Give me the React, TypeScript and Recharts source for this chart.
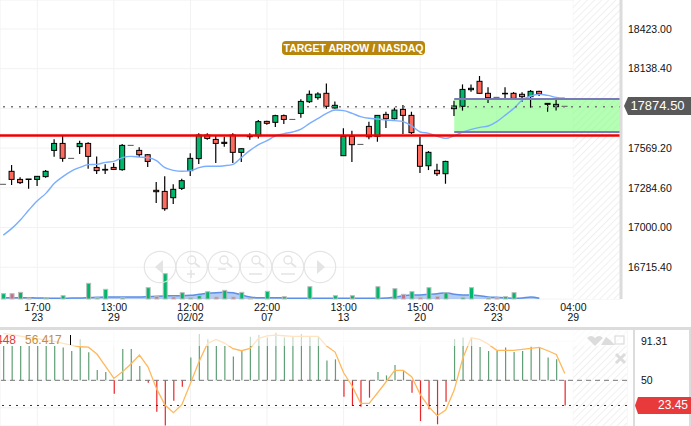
import {
  Area,
  Bar,
  CartesianGrid,
  Cell,
  ComposedChart,
  Line,
  ReferenceArea,
  ReferenceLine,
  XAxis,
  YAxis,
} from "recharts";

const font = "'Liberation Sans', Arial, sans-serif";

const opens = [17310,17403,17345,17348,17345,17365,17553,17603,17496,17580,17603,17431,17417,17431,17415,17589,17553,17522,17267,17259,17214,17281,17408,17494,17663,17632,17611,17663,17539,17658,17658,17761,17754,17802,17775,17818,17902,17931,17962,17857,17515,17654,17596,17725,17654,17811,17780,17847,17804,17589,17443,17410,17386,17852,17869,17988,18048,17962,17933,17962,17962,17955,17938,17976,17890,17866,17869];
const highs = [17310,17448,17360,17348,17369,17412,17632,17663,17496,17623,17611,17510,17453,17462,17599,17589,17575,17527,17326,17367,17310,17350,17532,17675,17675,17658,17651,17675,17568,17675,17771,17766,17809,17811,17775,17919,17983,17969,18033,17904,17711,17694,17596,17759,17806,17830,17859,17878,17830,17651,17548,17458,17479,17909,18026,18026,18086,18005,17933,18005,17971,17969,17986,17981,17890,17926,17869];
const lows = [17310,17305,17312,17278,17298,17357,17508,17472,17496,17527,17422,17384,17384,17412,17408,17589,17505,17434,17176,17121,17169,17269,17369,17455,17630,17462,17580,17462,17470,17630,17639,17737,17720,17742,17775,17787,17892,17916,17852,17854,17515,17470,17596,17632,17615,17713,17775,17670,17670,17391,17412,17369,17314,17799,17838,17974,17959,17892,17933,17916,17916,17902,17859,17943,17830,17838,17869];
const closes = [17310,17345,17322,17345,17367,17403,17603,17496,17496,17603,17510,17408,17412,17417,17589,17589,17522,17474,17257,17135,17274,17336,17496,17663,17639,17603,17603,17539,17565,17651,17759,17747,17802,17775,17775,17904,17955,17957,17869,17876,17654,17594,17596,17651,17804,17780,17842,17804,17680,17439,17539,17386,17474,17871,17990,17998,17962,17931,17933,17959,17926,17938,17976,17959,17883,17883,17869];
const emaValues = [16946,16994,17054,17126,17193,17245,17317,17365,17405,17431,17451,17453,17467,17474,17501,17510,17505,17501,17479,17429,17410,17403,17408,17429,17439,17439,17443,17453,17503,17553,17594,17623,17658,17673,17685,17706,17747,17783,17818,17842,17838,17818,17795,17783,17778,17771,17766,17759,17728,17685,17675,17654,17639,17658,17685,17704,17718,17728,17759,17806,17854,17914,17943,17955,17947,17933,17928];
const volumes = [16,16,20,3,0,4,0,10,0,0,47,4,29,0,4,0,0,34,7,76,6,19,4,10,22,6,26,6,20,2,0,23,0,7,0,0,37,0,0,10,0,10,0,0,37,0,31,14,22,5,34,7,19,0,5,34,0,4,4,7,19,0,0,0,0,0,0];
const redVolumes = [1, 18, 20, 25, 27, 47, 49, 51, 58];
const avgVolumes = [4,4,4,4,3,3,2,2,3,3,4,5,6,6,6,6,6,7,8,9,10,10,11,14,17,19,20,19,12,6,4,4,4,3,2,2,2,2,2,2,2,2,2,2,2,3,5,10,12,12,14,16,19,14,12,12,10,6,5,4,2,3,6,2];
const histValues = [86.1,86.1,86.1,86.1,86.1,86.1,86.1,84.7,80.9,93.2,79.5,60.8,58.7,35.9,83,83,65,47.5,16.9,2.2,28.5,43.3,74.2,98.8,93.2,86.1,86.1,75.2,81.9,96,97.7,95.3,100.2,95.3,96,98.8,96,96,71,72.1,32.7,22.9,22.2,31.7,58.7,55.2,66.1,59.8,36.9,7.1,19.4,3.6,27.5,93.5,95.3,95.3,85.1,80.9,80.9,84.7,79.8,80.9,85.4,84.7,74.2,72.1,23.45];
const oscValues = [99.5,98.1,96.7,95.3,93.9,92.4,91,88.9,87.2,85.4,85,77.7,65,52,59.1,67.2,76.6,64.3,41.5,23.9,15.9,24.6,46.8,69.6,88.9,93.2,89.3,83.3,81.2,83.7,94.2,97,97.7,97,96.3,96.3,96.3,96.3,86.1,79.8,58,44,25.7,25.7,36.9,48.5,60.5,60.5,53.8,35.2,22.2,12.7,18.7,39.7,73.1,94.9,93.2,88.2,81.6,81.6,81.6,82.6,83.7,84.7,81.2,77.3,57.3];

const tickIndexes = [4, 13, 22, 31, 40, 49, 58, 67];
const tickTimes = ["17:00", "13:00", "12:00", "22:00", "13:00", "15:00", "23:00", "04:00"];
const tickDates = ["23", "29", "02/02", "07", "13", "20", "23", "29"];
const priceTicks = [18423, 18138.4, 17853.8, 17569.2, 17284.6, 17000, 16715.4];
const oscTicks = [91.31, 50, 21];

const lastPrice = 17865;
const targetPrice = 17660;
const zoneTop = 17922;
const zoneBottom = 17684;
const lastOsc = 23.45;

const chartData = opens.map((open, i) => ({
  i,
  open,
  high: highs[i],
  low: lows[i],
  close: closes[i],
  ema: emaValues[i],
  volume: volumes[i],
  avgVolume: avgVolumes[i] ?? null,
  hist: [50, histValues[i]],
  histValue: histValues[i],
  osc: oscValues[i],
}));

function Candle(props: any) {
  const { x, y, width, height, payload } = props;
  const cx = x + width / 2;
  const { open, high, low, close } = payload;
  const span = high - low;
  if (span === 0) {
    return <line x1={cx - 3} x2={cx + 3} y1={y} y2={y} stroke="#555" strokeWidth={1} />;
  }
  const toY = (v: number) => y + ((high - v) / span) * height;
  const top = toY(Math.max(open, close));
  const bottom = toY(Math.min(open, close));
  const fill = close >= open ? "#00b86b" : "#ff6a5e";
  return (
    <g>
      <line x1={cx} x2={cx} y1={y} y2={y + height} stroke="#000" strokeWidth={1.2} />
      <rect x={cx - 2.5} y={top} width={5} height={Math.max(bottom - top, 0.5)} fill={fill} stroke="#000" strokeWidth={1} />
    </g>
  );
}

function VolumeBar(props: any) {
  const { x, y, width, height, payload } = props;
  if (!payload.volume) return null;
  const red = redVolumes.includes(payload.i);
  return (
    <rect
      x={x + 0.5}
      y={y}
      width={width - 1}
      height={height}
      fill={red ? "#c4708c" : "#00b86b"}
      stroke="#bdbdbd"
      strokeWidth={1}
    />
  );
}

function TimeTick(props: any) {
  const { x, y, payload } = props;
  const pos = tickIndexes.indexOf(payload.value);
  return (
    <text x={x} y={y} textAnchor="middle" fill="#111" fontSize={10.5} fontFamily={font}>
      <tspan x={x} dy={6}>{tickTimes[pos]}</tspan>
      <tspan x={x} dy={10}>{tickDates[pos]}</tspan>
    </text>
  );
}

function NavButtons() {
  const c = "#e4e4e4";
  const centers = [160, 191.7, 224, 256, 288, 320];
  return (
    <svg width={350} height={40} style={{ position: "absolute", left: 0, top: 247 }}>
      {centers.map((cx) => (
        <circle key={cx} cx={cx} cy={20} r={15.7} fill="none" stroke={c} strokeWidth={1.2} />
      ))}
      <path d="M163 13 L155 20 L163 27 Z" fill={c} />
      <path d="M317 13 L325 20 L317 27 Z" fill={c} />
      {centers.slice(1, 5).map((cx) => (
        <g key={cx} fill="none" stroke={c} strokeWidth={1.4}>
          <circle cx={cx} cy={13} r={4} />
          <path d={`M${cx + 3} 16 L${cx + 8} 20`} strokeWidth={2} />
        </g>
      ))}
      <path d="M187 27 h8 M191 23 v8 M218 22 h8 M249 27 h13 M281 27 h14" stroke={c} strokeWidth={1.6} fill="none" />
    </svg>
  );
}

function PaneIcons() {
  const c = "#dcdcdc";
  return (
    <svg width={50} height={40} style={{ position: "absolute", left: 584, top: 332 }}>
      <path d="M3 6 Q7 2 11 6 Q15 2 19 6 L11 14 Z" fill={c} />
      <path d="M17 13 L22 5 L26 8 L31 13 Z" fill={c} />
      <rect x={31} y={4} width={9} height={8} fill="none" stroke={c} strokeWidth={1.2} />
      <path d="M32 22 L41 31 M41 22 L32 31" stroke={c} strokeWidth={3} />
    </svg>
  );
}

export default function App() {
  return (
    <div style={{ position: "absolute", left: 0, top: 0, width: 691, height: 426, overflow: "hidden", background: "#fff", fontFamily: font }}>
      <div style={{ position: "absolute", left: 0, top: 0 }}>
        <ComposedChart width={691} height={327} data={chartData} margin={{ top: 0, right: 0, bottom: 0, left: 0 }}>
          <defs>
            <pattern id="hatch" width={5} height={5} patternUnits="userSpaceOnUse" patternTransform="rotate(45)">
              <rect width={5} height={5} fill="#fff" />
              <line x1={0} x2={0} y1={0} y2={5} stroke="#f0f0f0" strokeWidth={2} />
            </pattern>
          </defs>
          <XAxis
            dataKey="i"
            type="number"
            domain={[-0.39, 72.6]}
            ticks={tickIndexes}
            interval={0}
            height={28}
            axisLine={false}
            tickLine={false}
            tickMargin={0}
            tick={<TimeTick />}
          />
          <XAxis xAxisId="vol" dataKey="i" type="number" domain={[-0.39, 72.6]} hide />
          <YAxis
            yAxisId="price"
            orientation="right"
            domain={[16488, 18630.8]}
            ticks={priceTicks}
            interval={0}
            width={70}
            tickFormatter={(v: number) => (v === 17853.8 ? "" : v.toFixed(2))}
            axisLine={{ stroke: "#dcdcdc", strokeWidth: 3 }}
            tickLine={false}
            tickMargin={1}
            tick={{ fill: "#111", fontSize: 10.5, fontFamily: font }}
          />
          <YAxis yAxisId="volume" domain={[0, 897]} hide />
          <CartesianGrid yAxisId="price" stroke="#f2f2f2" />
          <ReferenceArea yAxisId="price" x1={67} x2={72.6} fill="url(#hatch)" fillOpacity={1} stroke="none" />
          <Area
            xAxisId="vol"
            yAxisId="volume"
            dataKey="avgVolume"
            type="monotone"
            stroke="#5b8fe8"
            strokeWidth={1.5}
            fill="#5b8fe8"
            fillOpacity={0.45}
            connectNulls={false}
            dot={false}
            activeDot={false}
            isAnimationActive={false}
          />
          <Bar xAxisId="vol" yAxisId="volume" dataKey="volume" barSize={5} shape={<VolumeBar />} isAnimationActive={false} />
          <Bar
            yAxisId="price"
            dataKey={(d: any) => [d.low, d.high]}
            barSize={6}
            shape={<Candle />}
            isAnimationActive={false}
          />
          <Line yAxisId="price" dataKey="ema" type="monotone" stroke="#7aaeff" strokeWidth={1.4} dot={false} activeDot={false} isAnimationActive={false} />
          <ReferenceArea
            yAxisId="price"
            x1={53}
            x2={72.6}
            y1={zoneBottom}
            y2={zoneTop}
            fill="#7dff7d"
            fillOpacity={0.58}
            stroke="none"
          />
          <ReferenceLine yAxisId="price" stroke="#7a7ab8" strokeWidth={2} segment={[{ x: 53, y: zoneTop }, { x: 72.6, y: zoneTop }]} />
          <ReferenceLine yAxisId="price" stroke="#7a7ab8" strokeWidth={2} segment={[{ x: 53, y: zoneBottom }, { x: 72.6, y: zoneBottom }]} />
          <ReferenceLine yAxisId="price" y={lastPrice} stroke="#777" strokeDasharray="2 6" strokeWidth={1.5} />
          <ReferenceLine yAxisId="price" y={targetPrice} stroke="#f00000" strokeWidth={2.4} />
        </ComposedChart>
      </div>

      <div style={{ position: "absolute", left: 0, top: 328 }}>
        <ComposedChart width={691} height={98} data={chartData} margin={{ top: 0, right: 0, bottom: 0, left: 0 }}>
          <defs>
            <pattern id="hatchOsc" width={5} height={5} patternUnits="userSpaceOnUse" patternTransform="rotate(45)">
              <rect width={5} height={5} fill="#fff" />
              <line x1={0} x2={0} y1={0} y2={5} stroke="#f0f0f0" strokeWidth={2} />
            </pattern>
          </defs>
          <XAxis dataKey="i" type="number" domain={[-0.39, 73.31]} ticks={tickIndexes} interval={0} height={0} hide />
          <YAxis
            orientation="right"
            domain={[1.8, 105.2]}
            ticks={oscTicks}
            interval={0}
            width={64}
            axisLine={false}
            tickLine={false}
            tickMargin={8}
            tickFormatter={(v: number) => (v === 21 ? "" : String(v))}
            tick={{ fill: "#111", fontSize: 10.5, fontFamily: font }}
          />
          <CartesianGrid stroke="#f2f2f2" />
          <ReferenceArea x1={67} x2={73.31} fill="url(#hatchOsc)" fillOpacity={1} stroke="none" />
          <ReferenceLine y={50} stroke="#777" strokeDasharray="5 4" strokeWidth={1} />
          <ReferenceLine y={lastOsc} stroke="#333" strokeDasharray="2 5" strokeWidth={1} />
          <Bar dataKey="hist" barSize={1.2} isAnimationActive={false}>
            {chartData.map((d) => (
              <Cell key={d.i} fill={d.histValue >= 50 ? "#5f9f75" : "#e8262a"} />
            ))}
          </Bar>
          <Line dataKey="osc" type="linear" stroke="#ffb85c" strokeWidth={1.3} dot={false} activeDot={false} isAnimationActive={false} />
        </ComposedChart>
      </div>

      <div style={{ position: "absolute", left: 0, top: 327, width: 627, height: 19, background: "rgba(255,255,255,0.62)" }} />

      <div style={{ position: "absolute", left: 282, top: 41, width: 143, height: 14, lineHeight: "14px", background: "#b8860b", borderRadius: 4, color: "#fff", fontSize: 10.5, fontWeight: 700, textAlign: "center", whiteSpace: "nowrap" }}>
        TARGET ARROW / NASDAQ
      </div>

      <div style={{ position: "absolute", left: 0, top: 327, width: 691, height: 3, background: "#dcdcdc" }} />
      <div style={{ position: "absolute", left: 633, top: 328, width: 2, height: 98, background: "#dcdcdc" }} />
      <div style={{ position: "absolute", left: 689, top: 328, width: 2, height: 98, background: "#dcdcdc" }} />

      <div style={{ position: "absolute", left: 624, top: 97, width: 67, height: 18, lineHeight: "18px", background: "#595959", color: "#fff", fontSize: 13, textAlign: "center", borderRadius: "3px 0 0 3px", clipPath: "polygon(0 50%, 4px 0, 100% 0, 100% 100%, 4px 100%)" }}>
        17874.50
      </div>
      <div style={{ position: "absolute", left: 635, top: 397, width: 56, height: 17, lineHeight: "17px", background: "#e83a3a", color: "#fff", fontSize: 12, textAlign: "right", paddingRight: 3, boxSizing: "border-box", clipPath: "polygon(0 50%, 3px 0, 100% 0, 100% 100%, 3px 100%)" }}>
        23.45
      </div>

      <div style={{ position: "absolute", left: -4, top: 333, fontSize: 12, lineHeight: "14px", whiteSpace: "nowrap", color: "#e23b3b" }}>
        448
      </div>
      <div style={{ position: "absolute", left: 25, top: 333, fontSize: 12, lineHeight: "14px", whiteSpace: "nowrap", color: "#c68c3c" }}>
        56.417
      </div>
      <div style={{ position: "absolute", left: 70, top: 335, width: 1, height: 10, background: "#000" }} />

      <NavButtons />
      <PaneIcons />
    </div>
  );
}
